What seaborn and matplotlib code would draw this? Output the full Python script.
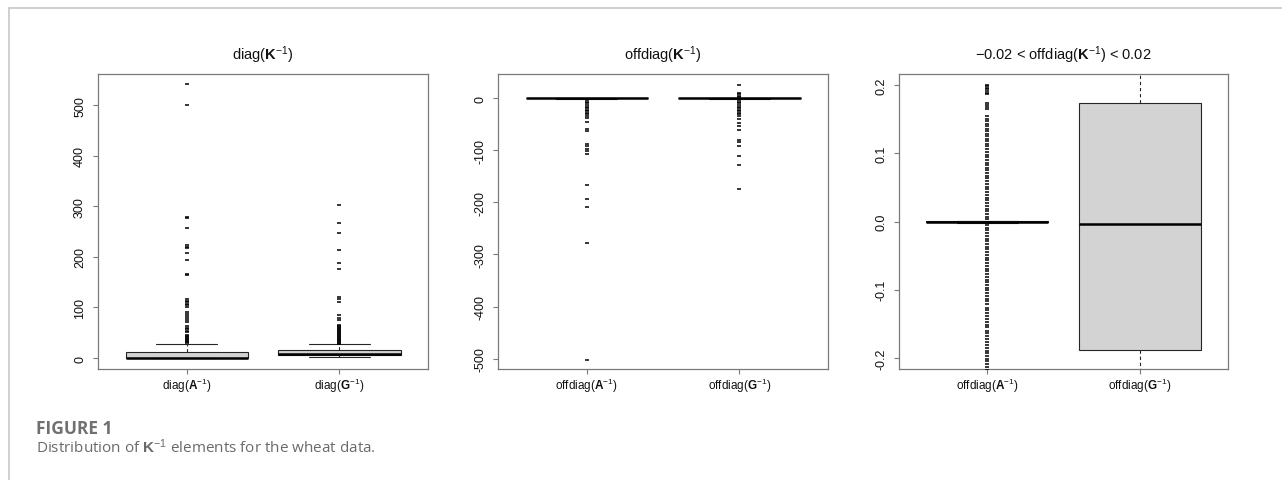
import numpy as np
import pandas as pd
import matplotlib
matplotlib.use("Agg")
import matplotlib.pyplot as plt
from matplotlib.lines import Line2D
import seaborn as sns

# ---------------- data ----------------
groups = ["A", "G"]

# five-number summaries: [lower whisker, Q1, median, Q3, upper whisker]
diag_A_box = [0.2, 0.5, 1.0, 12.0, 28.3]
diag_G_box = [2.0, 5.2, 8.5, 15.8, 27.0]
diag_A_out = [541, 500, 278, 276, 258, 223, 220, 218, 208, 193, 167, 165,
              116, 113, 110, 107, 104, 101, 92, 88, 84, 80, 76, 72,
              64, 60, 57, 54, 51, 45, 43, 41, 39, 37, 35, 33, 31.5, 30]
diag_G_out = [303, 267, 247, 213, 188, 177, 121, 116, 111, 85, 80, 76,
              66, 64, 62, 60, 58, 56, 54, 52, 50, 48, 46, 44, 42, 40,
              38, 36, 34, 32, 30, 28.5]

offdiag_A_box = [-0.6, -0.2, 0.0, 0.1, 0.5]
offdiag_G_box = [-0.8, -0.3, 0.0, 0.2, 0.7]
offdiag_A_out = [-1, -4, -7, -10, -13, -16, -19, -22, -25, -28, -31, -34,
                 -38, -46, -59, -62, -88, -91, -97, -102, -107, -166,
                 -193, -209, -278, -502]
offdiag_G_out = [25.5, 11, 8, 5, 2, -1, -4, -7, -10, -13, -16, -19, -22,
                 -25, -28, -31, -34, -40, -47, -54, -60, -81, -84, -91,
                 -110, -128, -174]

zoom_A_box = [-0.0015, -0.0008, 0.0, 0.0003, 0.0008]
zoom_G_box = [-0.30, -0.188, -0.004, 0.173, 0.30]
zoom_A_out = [0.200, 0.198, 0.196, 0.194, 0.191, 0.188, 0.186, 0.174, 0.171,
              0.167, 0.165, 0.154, 0.150, 0.147, 0.143, 0.140, 0.136, 0.132,
              0.128, 0.125, 0.121, 0.118, 0.114, 0.110, 0.106, 0.102, 0.098,
              0.094, 0.090, 0.086, 0.083,
              0.079, 0.075, 0.071, 0.067, 0.063, 0.059, 0.055, 0.051, 0.047,
              0.043, 0.039, 0.035, 0.031, 0.027, 0.023, 0.019, 0.015, 0.011,
              0.007, 0.003, -0.001, -0.005, -0.009, -0.013, -0.017, -0.021,
              -0.025, -0.029, -0.033, -0.037, -0.041, -0.045, -0.049, -0.053,
              -0.057, -0.061, -0.065, -0.069, -0.073, -0.077, -0.081, -0.085,
              -0.089, -0.093, -0.097, -0.101, -0.105, -0.109, -0.113, -0.117,
              -0.121, -0.126, -0.130, -0.134, -0.138, -0.143, -0.147, -0.151,
              -0.155, -0.160, -0.164, -0.168, -0.172, -0.177, -0.181, -0.185,
              -0.189, -0.193, -0.197, -0.201, -0.205, -0.209, -0.213, -0.217]
zoom_G_out = []

titles = [r"diag($\mathbf{K}^{-1}$)", r"offdiag($\mathbf{K}^{-1}$)",
          r"$-$0.02 < offdiag($\mathbf{K}^{-1}$) < 0.02"]
xlabels = [[r"diag($\mathbf{A}^{-1}$)", r"diag($\mathbf{G}^{-1}$)"],
           [r"offdiag($\mathbf{A}^{-1}$)", r"offdiag($\mathbf{G}^{-1}$)"],
           [r"offdiag($\mathbf{A}^{-1}$)", r"offdiag($\mathbf{G}^{-1}$)"]]
yticks = [[0, 100, 200, 300, 400, 500],
          [0, -100, -200, -300, -400, -500],
          [-0.2, -0.1, 0.0, 0.1, 0.2]]
ytick_labels = [["0", "100", "200", "300", "400", "500"],
                ["0", "-100", "-200", "-300", "-400", "-500"],
                ["-0.2", "-0.1", "0.0", "0.1", "0.2"]]
ylims = [(-21.6, 561.6), (-520, 46.6), (-0.216, 0.216)]

panels = [
    (diag_A_box, diag_G_box, diag_A_out, diag_G_out),
    (offdiag_A_box, offdiag_G_box, offdiag_A_out, offdiag_G_out),
    (zoom_A_box, zoom_G_box, zoom_A_out, zoom_G_out),
]

# ---------------- style ----------------
sns.set_style("ticks")
plt.rcParams["font.family"] = ["Liberation Sans", "DejaVu Sans"]
plt.rcParams["mathtext.fontset"] = "custom"
plt.rcParams["mathtext.rm"] = "Liberation Sans"
plt.rcParams["mathtext.bf"] = "Liberation Sans:bold"
plt.rcParams["mathtext.it"] = "Liberation Sans:italic"
plt.rcParams["axes.unicode_minus"] = False

W, H = 1282, 481
fig = plt.figure(figsize=(W / 100, H / 100), dpi=100)
rects = [(98, 75, 428, 370), (498, 75, 828, 370), (899, 75, 1228, 370)]

frame_col = "#7a7a7a"
text_col = "#111111"

for i, (rect, (boxA, boxG, outA, outG)) in enumerate(zip(rects, panels)):
    l, t, r, b = rect
    ax = fig.add_axes([l / W, 1 - b / H, (r - l) / W, (b - t) / H])
    df_box = pd.DataFrame({"group": ["A"] * len(boxA) + ["G"] * len(boxG),
                           "value": list(boxA) + list(boxG)})
    sns.boxplot(data=df_box, x="group", y="value", order=groups, ax=ax,
                whis=(0, 100), showfliers=False, width=0.8,
                color="#D3D3D3", saturation=1, linecolor="#262626",
                linewidth=0.8,
                whiskerprops=dict(linestyle=(0, (3, 2.5)), linewidth=0.8),
                capprops=dict(linewidth=0.8),
                medianprops=dict(color="black", linewidth=1.8))
    df_out = pd.DataFrame({"group": ["A"] * len(outA) + ["G"] * len(outG),
                           "value": list(outA) + list(outG)})
    sns.stripplot(data=df_out, x="group", y="value", order=groups, ax=ax,
                  jitter=False, marker="_", size=3.3, linewidth=1.1,
                  color="black")
    ax.set_xlim(-0.58, 1.58)
    ax.set_ylim(*ylims[i])
    ax.set_xticks([0, 1])
    ax.set_xticklabels(xlabels[i], fontsize=8.5, color=text_col)
    ax.set_yticks(yticks[i])
    ax.set_yticklabels(ytick_labels[i], fontsize=9, color=text_col,
                       rotation=90, va="center")
    ax.set_xlabel("")
    ax.set_ylabel("")
    ax.tick_params(axis="both", direction="out", length=3.6, width=0.8,
                   color=frame_col)
    ax.tick_params(axis="x", pad=1.5)
    ax.tick_params(axis="y", pad=5.0)
    for sp in ax.spines.values():
        sp.set_visible(True)
        sp.set_color(frame_col)
        sp.set_linewidth(0.9)
    ax.set_title(titles[i], fontsize=10.5, color=text_col, pad=11)

# figure frame lines (top and left)
fig.add_artist(Line2D([9 / W, 1.0], [1 - 9 / H, 1 - 9 / H],
                      transform=fig.transFigure, color="#c8c8c8", lw=1.2))
fig.add_artist(Line2D([9 / W, 9 / W], [0.0, 1 - 9 / H],
                      transform=fig.transFigure, color="#c8c8c8", lw=1.2))

# caption
fig.text(36 / W, 1 - 434 / H, "FIGURE 1", fontsize=12.5, fontweight="bold",
         family=["Open Sans", "DejaVu Sans"], color="#707070", va="baseline")
fig.text(36 / W, 1 - 453 / H,
         r"Distribution of $\mathbf{K}^{-1}$ elements for the wheat data.",
         fontsize=11, family=["Open Sans", "DejaVu Sans"], color="#6a6a6a",
         va="baseline")

fig.savefig("out.png", dpi=100)
